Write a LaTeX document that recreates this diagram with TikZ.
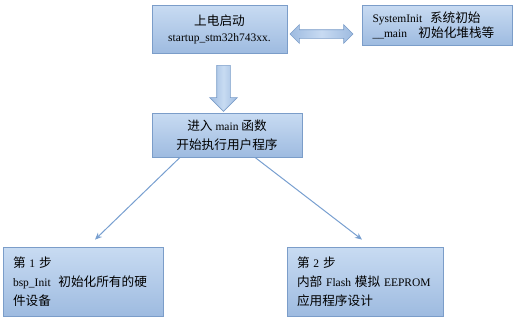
\documentclass[tikz,border=0pt]{standalone}
\usepackage{fontspec}
\setmainfont{Liberation Serif}
\newfontfamily\cjk[Scale=1.1]{Noto Sans CJK SC}
\usetikzlibrary{positioning,arrows.meta,shapes.arrows}
\definecolor{boxtop}{HTML}{C8DBF2}
\definecolor{boxbot}{HTML}{9EBBE0}
\definecolor{boxline}{HTML}{7B9DC9}
\definecolor{linkblue}{HTML}{789FD0}
\tikzset{
  stage/.style={draw=boxline, line width=0.8pt, top color=boxtop, bottom color=boxbot, inner sep=0pt},
  leftstage/.style={stage, align=left, inner xsep=10pt},
  bigarrow/.style={draw=boxline, line width=0.6pt, left color=boxbot, right color=boxbot, middle color=boxtop, inner xsep=0pt},
  link/.style={draw=linkblue, line width=1pt, -{Stealth[length=7pt,width=6pt]}}
}

\begin{document}
\begin{tikzpicture}[x=1pt,y=-1pt]
  \useasboundingbox (0,0) rectangle (516,325);
  % top row
  \node[stage, minimum width=135pt, minimum height=48pt, align=center,
        font=\fontsize{11.5}{16}\selectfont] (power) at (219.5,29)
        {{\cjk 上电启动}\\startup\_stm32h743xx.};
  \node[leftstage, minimum width=150pt, minimum height=40pt, text width=129pt,
        font=\fontsize{11.5}{15}\selectfont] (sysinit) at (437,25)
        {SystemInit\ \ {\cjk 系统初始}\\\_\_main\ \ \ {\cjk 初始化堆栈等}};
  \node[bigarrow, double arrow, inner ysep=4pt, minimum height=63pt,
        double arrow head extend=5pt] (swap) at (321.5,34) {};
  % main
  \node[single arrow, bigarrow, shape border rotate=270, inner sep=6.5pt,
        minimum height=46pt, single arrow head extend=7pt] (down) at (223.5,85) {};
  \node[stage, minimum width=150pt, minimum height=44pt, align=center,
        font=\fontsize{11.5}{19}\selectfont] (main) at (227,135)
        {{\cjk 进入} main {\cjk 函数}\\{\cjk 开始执行用户程序}};
  % steps
  \node[leftstage, minimum width=160pt, minimum height=69pt, text width=140pt,
        font=\fontsize{11.5}{19}\selectfont] (step1) at (83,281.5)
        {{\cjk 第} 1 {\cjk 步}\\bsp\_Init\ \ {\cjk 初始化所有的硬}\\{\cjk 件设备}};
  \node[leftstage, minimum width=156pt, minimum height=69pt, text width=136pt,
        font=\fontsize{11.5}{19}\selectfont] (step2) at (365,281.5)
        {{\cjk 第} 2 {\cjk 步}\\{\cjk 内部} Flash {\cjk 模拟} EEPROM\\{\cjk 应用程序设计}};
  \draw[link] ([xshift=-47pt]main.south) -- ([xshift=12pt,yshift=7pt]step1.north);
  \draw[link] ([xshift=28pt]main.south) -- ([xshift=-3pt,yshift=7pt]step2.north);
\end{tikzpicture}
\end{document}
